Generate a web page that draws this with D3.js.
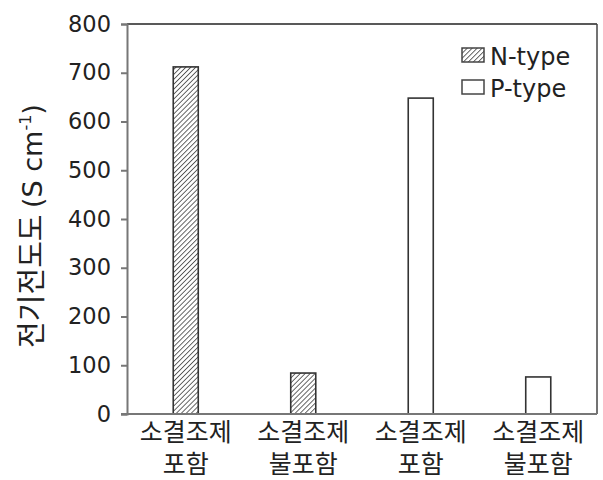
<!DOCTYPE html>
<html><head><meta charset="utf-8">
<script src="https://cdn.jsdelivr.net/npm/d3@7"></script>
<style>body{margin:0;background:#fff}</style>
</head><body>
<script>
const categories = [["소결조제","포함"],["소결조제","불포함"],["소결조제","포함"],["소결조제","불포함"]];
const seriesType = ["N-type","N-type","P-type","P-type"];
const values = [712, 84, 648, 76];
const yTicks = [0,100,200,300,400,500,600,700,800];
const legendLabels = ["N-type","P-type"];

const W=603,H=480;
const m={l:127,r:6,t:24,b:66};
const svg=d3.select("body").append("svg").attr("width",W).attr("height",H);
const defs=svg.append("defs");
const pat=defs.append("pattern").attr("id","hatch").attr("patternUnits","userSpaceOnUse")
 .attr("width",3.5).attr("height",3.5).attr("patternTransform","rotate(45)");
pat.append("rect").attr("width",3.5).attr("height",3.5).attr("fill","#fff");
pat.append("line").attr("x1",0).attr("y1",0).attr("x2",0).attr("y2",3.5).attr("stroke","#555").attr("stroke-width",1.8);

const font="'DejaVu Sans','Noto Sans CJK KR',sans-serif";
const kfont="'Noto Sans CJK KR',sans-serif";
const x=d3.scaleBand().domain(d3.range(values.length)).range([m.l,W-m.r]).paddingInner(0.787).paddingOuter(0.3935);
const y=d3.scaleLinear().domain([0,800]).range([H-m.b,m.t]);

// frame top & right
svg.append("line").attr("x1",m.l).attr("x2",W-m.r).attr("y1",y(800)).attr("y2",y(800)).attr("stroke","#222").attr("stroke-width",1.5);
svg.append("line").attr("x1",W-m.r).attr("x2",W-m.r).attr("y1",y(800)).attr("y2",y(0)).attr("stroke","#444").attr("stroke-width",1.5);

// bars
svg.selectAll("rect.bar").data(values).enter().append("rect").attr("class","bar")
 .attr("x",(d,i)=>x(i)).attr("width",x.bandwidth())
 .attr("y",d=>y(d)).attr("height",d=>y(0)-y(d))
 .attr("fill",(d,i)=>seriesType[i]==="N-type"?"url(#hatch)":"#fff")
 .attr("stroke","#333").attr("stroke-width",1.6);

// y axis
const ya=svg.append("g").attr("transform",`translate(${m.l},0)`)
 .call(d3.axisLeft(y).tickValues(yTicks).tickSize(6).tickPadding(10));
ya.select(".domain").attr("stroke","#777").attr("stroke-width",2);
ya.selectAll(".tick line").attr("stroke","#777").attr("stroke-width",2);
ya.selectAll(".tick text").attr("font-family",font).attr("font-size",22.5).attr("fill","#222");

// x axis line
const xa=svg.append("g").attr("transform",`translate(0,${y(0)})`)
 .call(d3.axisBottom(x).tickSize(0).tickFormat(""));
xa.select(".domain").attr("stroke","#777").attr("stroke-width",2).attr("d",`M${m.l-6},0H${W-m.r}`);

// x labels
categories.forEach((c,i)=>{
 const cx=x(i)+x.bandwidth()/2;
 svg.append("text").attr("font-family",kfont).attr("font-size",25).attr("fill","#222").attr("text-anchor","middle")
  .attr("x",cx).attr("y",441).text(c[0]);
 svg.append("text").attr("font-family",kfont).attr("font-size",25).attr("fill","#222").attr("text-anchor","middle")
  .attr("x",cx).attr("y",473).text(c[1]);
});

// y title
const yt=svg.append("text").attr("transform","translate(42,226) rotate(-90)").attr("text-anchor","middle")
 .attr("font-family",font).attr("font-size",27).attr("fill","#222");
yt.append("tspan").attr("font-family",kfont).attr("font-size",29).text("전기전도도 ");
yt.append("tspan").text("(S cm");
yt.append("tspan").attr("font-size",16).attr("dy",-11).text("-1");
yt.append("tspan").attr("dy",11).text(")");

// legend
legendLabels.forEach((l,i)=>{
 const gy=48+i*32;
 svg.append("rect").attr("x",462).attr("y",gy).attr("width",22).attr("height",14)
  .attr("fill",i===0?"url(#hatch)":"#fff").attr("stroke","#444").attr("stroke-width",1.5);
 svg.append("text").attr("x",490).attr("y",gy+17).attr("font-family",font).attr("font-size",24).attr("fill","#222").text(l);
});
</script>
</body></html>
